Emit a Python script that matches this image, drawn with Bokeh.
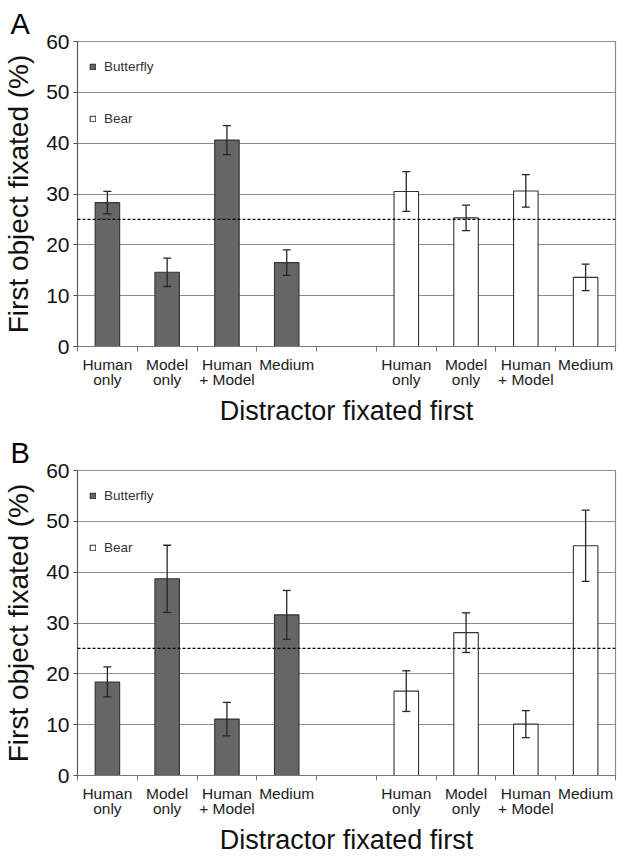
from bokeh.plotting import figure
from bokeh.models import (ColumnDataSource, Whisker, TeeHead, Span, FixedTicker,
                          Legend, LegendItem, Range1d, LinearAxis)
from bokeh.layouts import column
from bokeh.embed import file_html
from bokeh.resources import INLINE

# ---------------- data ----------------
cat_line1 = ["Human", "Model", "Human", "Medium"]
cat_line2 = ["only", "only", "+ Model", ""]
series_names = ["Butterfly", "Bear"]

a_butterfly = [28.3, 14.6, 40.6, 16.5]
a_butterfly_err = [2.2, 2.8, 2.85, 2.5]
a_bear = [30.5, 25.3, 30.6, 13.6]
a_bear_err = [3.9, 2.5, 3.2, 2.6]

b_butterfly = [18.4, 38.7, 11.1, 31.6]
b_butterfly_err = [2.95, 6.6, 3.3, 4.8]
b_bear = [16.6, 28.1, 10.1, 45.2]
b_bear_err = [4.0, 3.9, 2.65, 7.0]

chance_level = 25
y_ticks = [0, 10, 20, 30, 40, 50, 60]
x_title = "Distractor fixated first"
y_title = "First object fixated (%)"

FONT = "Liberation Sans"
DARK = "#666666"
EDGE = "#333333"
GRID = "#8c8c8c"


def make_panel(letter, bfly, bfly_err, bear, bear_err, height, top, bottom):
    n = len(cat_line1)
    slots = n * 2 + 1
    p = figure(width=617, height=height, output_backend="svg", toolbar_location=None,
               x_range=Range1d(0, slots), y_range=Range1d(0, 60),
               min_border_left=70, min_border_right=2,
               min_border_top=top, min_border_bottom=bottom)
    p.background_fill_color = "white"
    p.border_fill_color = "white"
    p.outline_line_color = GRID
    p.outline_line_width = 1.2

    # panel letter
    p.title.text = letter
    p.title.text_font = FONT
    p.title.text_font_size = "29px"
    p.title.text_font_style = "normal"
    p.title.text_color = "black"
    p.title.align = "left"
    p.title.offset = -67
    p.title.standoff = 4

    xb = [i + 0.5 for i in range(n)]
    xr = [n + 1 + i + 0.5 for i in range(n)]
    centers = xb + xr

    sb = ColumnDataSource(dict(x=xb, top=bfly,
                               upper=[v + e for v, e in zip(bfly, bfly_err)],
                               lower=[v - e for v, e in zip(bfly, bfly_err)]))
    sr = ColumnDataSource(dict(x=xr, top=bear,
                               upper=[v + e for v, e in zip(bear, bear_err)],
                               lower=[v - e for v, e in zip(bear, bear_err)]))

    rb = p.vbar(x="x", top="top", bottom=0, width=0.41, source=sb,
                fill_color=DARK, line_color=EDGE, line_width=1.1)
    rr = p.vbar(x="x", top="top", bottom=0, width=0.41, source=sr,
                fill_color="white", line_color=EDGE, line_width=1.1)

    for s in (sb, sr):
        w = Whisker(base="x", upper="upper", lower="lower", source=s,
                    dimension="height", line_color="#262626", line_width=1.3,
                    level="annotation",
                    upper_head=TeeHead(size=8, line_color="#262626", line_width=1.3),
                    lower_head=TeeHead(size=8, line_color="#262626", line_width=1.3))
        p.add_layout(w)

    p.add_layout(Span(location=chance_level, dimension="width", line_color="black",
                      line_width=1.2, line_dash="3 2"))

    # x axis, first line of category labels + boundary ticks
    ax1 = p.xaxis[0]
    ax1.ticker = FixedTicker(ticks=centers, minor_ticks=list(range(slots + 1)))
    ax1.major_label_overrides = {x: c for x, c in zip(centers, cat_line1 + cat_line1)}
    ax1.major_tick_out = 0
    ax1.major_tick_in = 0
    ax1.minor_tick_out = 5
    ax1.minor_tick_in = 0
    ax1.minor_tick_line_color = "#777777"
    ax1.axis_line_color = "#777777"
    ax1.major_label_text_font = FONT
    ax1.major_label_text_font_size = "15.5px"
    ax1.major_label_text_color = "#222222"
    ax1.major_label_standoff = 4
    ax1.major_label_orientation = "horizontal"

    # second line of category labels + axis title
    ax2 = LinearAxis(ticker=FixedTicker(ticks=centers, minor_ticks=[]),
                     major_label_overrides={x: c for x, c in zip(centers, cat_line2 + cat_line2)})
    ax2.axis_line_color = None
    ax2.major_tick_line_color = None
    ax2.minor_tick_line_color = None
    ax2.major_tick_out = 0
    ax2.major_tick_in = 0
    ax2.major_label_text_font = FONT
    ax2.major_label_text_font_size = "15.5px"
    ax2.major_label_text_color = "#222222"
    ax2.major_label_standoff = -5
    ax2.major_label_orientation = "horizontal"
    ax2.axis_label = x_title
    ax2.axis_label_text_font = FONT
    ax2.axis_label_text_font_size = "27px"
    ax2.axis_label_text_font_style = "normal"
    ax2.axis_label_text_color = "#111111"
    ax2.axis_label_standoff = 5
    p.add_layout(ax2, "below")

    p.yaxis.ticker = FixedTicker(ticks=y_ticks)
    p.yaxis.minor_tick_line_color = None
    p.yaxis.major_tick_out = 4
    p.yaxis.major_tick_in = 0
    p.yaxis.major_tick_line_color = "#555555"
    p.yaxis.axis_line_color = "#555555"
    p.yaxis.major_label_text_font = FONT
    p.yaxis.major_label_text_font_size = "21px"
    p.yaxis.major_label_text_color = "#111111"
    p.yaxis.major_label_standoff = 4
    p.yaxis.axis_label = y_title
    p.yaxis.axis_label_text_font = FONT
    p.yaxis.axis_label_text_font_size = "28px"
    p.yaxis.axis_label_text_font_style = "normal"
    p.yaxis.axis_label_text_color = "#111111"
    p.yaxis.axis_label_standoff = 9

    p.xgrid.grid_line_color = None
    p.ygrid.ticker = FixedTicker(ticks=y_ticks)
    p.ygrid.grid_line_color = GRID
    p.ygrid.grid_line_width = 1.2

    legend = Legend(items=[LegendItem(label=series_names[0], renderers=[rb]),
                           LegendItem(label=series_names[1], renderers=[rr])],
                    location=(12, 220), padding=0, margin=0, spacing=37,
                    glyph_width=7, glyph_height=7, label_standoff=8,
                    label_text_font=FONT, label_text_font_size="13.5px",
                    label_text_color="#333333",
                    border_line_alpha=0, background_fill_alpha=0)
    p.add_layout(legend)
    return p


pa = make_panel("A", a_butterfly, a_butterfly_err, a_bear, a_bear_err, 428, 41, 82)
pb = make_panel("B", b_butterfly, b_butterfly_err, b_bear, b_bear_err, 429, 42, 82)

layout = column(pa, pb, spacing=0)
open("out.html", "w").write(file_html(layout, INLINE))
